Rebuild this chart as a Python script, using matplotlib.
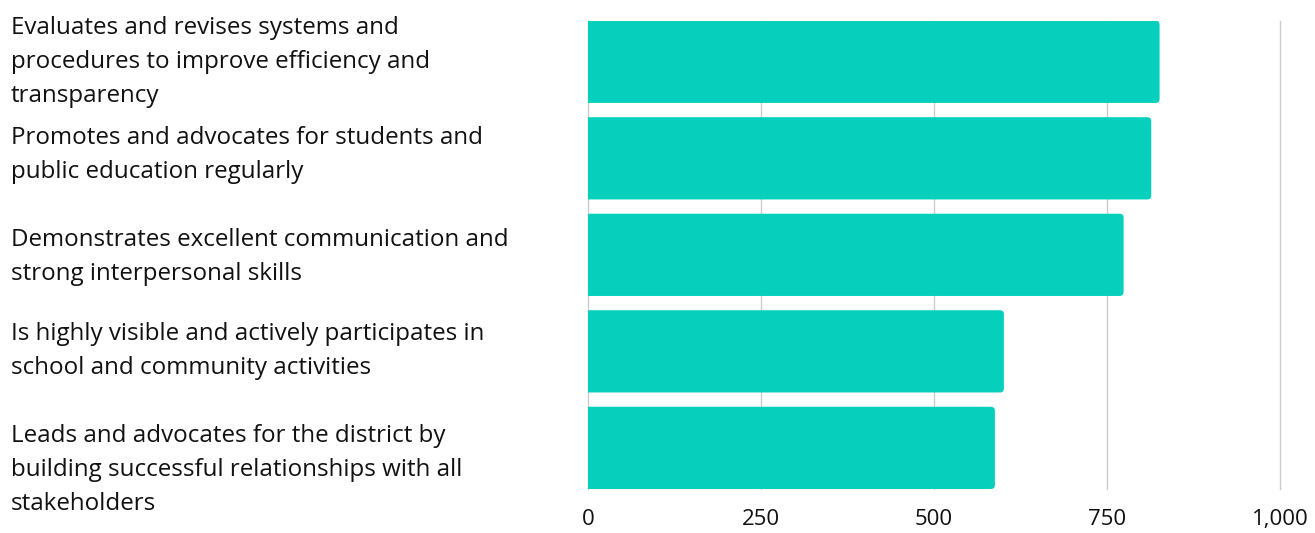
import matplotlib
matplotlib.use("Agg")
import matplotlib.pyplot as plt
from matplotlib.path import Path
from matplotlib.patches import PathPatch
from matplotlib.transforms import blended_transform_factory, offset_copy

categories = [
    "Evaluates and revises systems and\nprocedures to improve efficiency and\ntransparency",
    "Promotes and advocates for students and\npublic education regularly",
    "Demonstrates excellent communication and\nstrong interpersonal skills",
    "Is highly visible and actively participates in\nschool and community activities",
    "Leads and advocates for the district by\nbuilding successful relationships with all\nstakeholders",
]
values = [826, 814, 774, 601, 588]
xticks = [0, 250, 500, 750, 1000]
xtick_labels = ["0", "250", "500", "750", "1,000"]

BAR_COLOR = "#06cfbc"
GRID_COLOR = "#cccccc"
TEXT_COLOR = "#111111"

plt.rcParams["font.family"] = ["Open Sans", "DejaVu Sans"]

W, H = 1315, 533
fig = plt.figure(figsize=(W / 100, H / 100), dpi=100)
ax = fig.add_axes([588 / W, 1 - 489 / H, (1280 - 588) / W, (489 - 20.7) / H])

bar_h = 0.852
ys = list(range(len(categories)))
ax.set_xlim(0, 1000)
ax.set_ylim(len(categories) - 1 + bar_h / 2, -bar_h / 2)
bars = ax.barh(ys, values, height=bar_h, color=BAR_COLOR, zorder=2)


def rounded_right(rect, rpx=4.0):
    """Path of a bar with its two right corners rounded by rpx pixels."""
    x0, y0 = rect.get_x(), rect.get_y()
    w, h = rect.get_width(), rect.get_height()
    (px0, py0), (px1, py1) = ax.transData.transform([(0, 0), (1, 1)])
    rx = rpx / abs(px1 - px0)
    ry = rpx / abs(py1 - py0)
    x1, y1 = x0 + w, y0 + h
    verts = [
        (x0, y0), (x1 - rx, y0), (x1, y0), (x1, y0 + ry),
        (x1, y1 - ry), (x1, y1), (x1 - rx, y1), (x0, y1), (x0, y0),
    ]
    codes = [
        Path.MOVETO, Path.LINETO, Path.CURVE3, Path.CURVE3,
        Path.LINETO, Path.CURVE3, Path.CURVE3, Path.LINETO, Path.CLOSEPOLY,
    ]
    return Path(verts, codes)


for rect in bars.patches:
    rect.set_visible(False)
    ax.add_patch(PathPatch(rounded_right(rect), facecolor=BAR_COLOR,
                           edgecolor="none", zorder=2))

ax.set_xticks(xticks)
ax.set_xticklabels(xtick_labels, fontsize=16, color=TEXT_COLOR)
ax.tick_params(axis="x", length=0, pad=14.5)
ax.set_yticks([])
ax.grid(axis="x", color=GRID_COLOR, linewidth=1, zorder=0)
for gl in ax.get_xgridlines():
    gl.set_clip_on(False)
for s in ax.spines.values():
    s.set_visible(False)

# category labels, left aligned at the figure edge
trans = blended_transform_factory(fig.transFigure, ax.transData)
shifts = [0, -3, 2, 0, 22]
for y, label, dy in zip(ys, categories, shifts):
    t = offset_copy(trans, fig=fig, x=0, y=-dy * 0.72, units="points")
    ax.text(11 / W, y, label, transform=t, ha="left", va="center",
            fontsize=17.4, color=TEXT_COLOR, linespacing=1.55)

fig.savefig("out.png", dpi=100)
